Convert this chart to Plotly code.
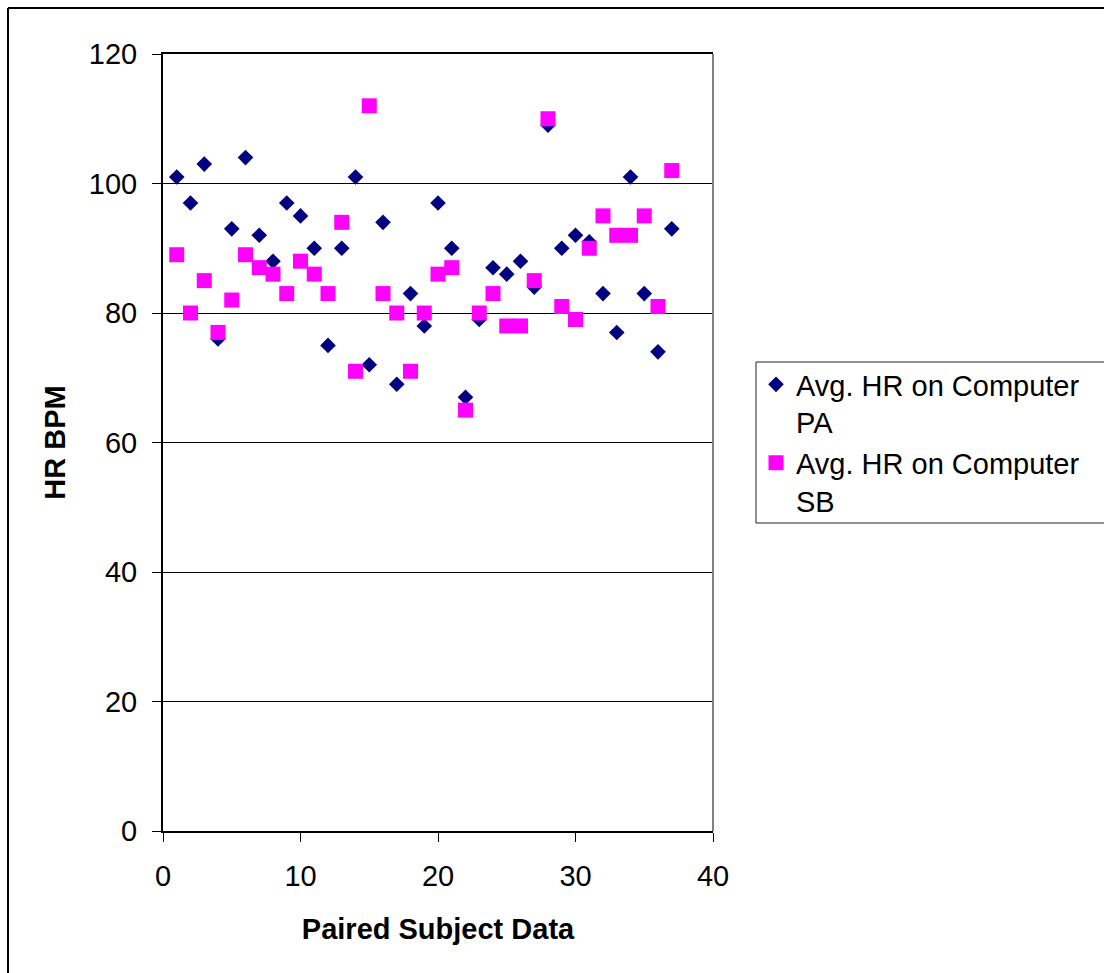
import plotly.graph_objects as go

# Paired subject index (x) and average heart rates (BPM) for each computer condition
subjects = list(range(1, 38))
hr_pa = [101, 97, 103, 76, 93, 104, 92, 88, 97, 95, 90, 75, 90, 101, 72, 94, 69, 83, 78, 97,
         90, 67, 79, 87, 86, 88, 84, 109, 90, 92, 91, 83, 77, 101, 83, 74, 93]
hr_sb = [89, 80, 85, 77, 82, 89, 87, 86, 83, 88, 86, 83, 94, 71, 112, 83, 80, 71, 80, 86,
         87, 65, 80, 83, 78, 78, 85, 110, 81, 79, 90, 95, 92, 92, 95, 81, 102]

series_names = ["Avg. HR on Computer<br>PA", "Avg. HR on Computer<br>SB"]
y_ticks = [0, 20, 40, 60, 80, 100, 120]
x_ticks = [0, 10, 20, 30, 40]

FONT = "Liberation Sans, Arial, sans-serif"
W, H = 1104, 973
L, R, T, B = 163, 713, 54, 831  # plot area in pixels


def px_x(p):
    return (p - L) / (R - L)


def px_y(p):
    return (B - p) / (B - T)


fig = go.Figure()
fig.add_trace(go.Scatter(
    x=subjects, y=hr_pa, mode="markers", name=series_names[0],
    marker=dict(symbol="diamond", size=12, color="#000080", line=dict(width=0)),
))
fig.add_trace(go.Scatter(
    x=subjects, y=hr_sb, mode="markers", name=series_names[1],
    marker=dict(symbol="square", size=15, color="#FF00FF", line=dict(width=0)),
))

shapes = [
    # outer chart frame (top and left edges)
    dict(type="line", xref="paper", yref="paper", x0=px_x(8), x1=px_x(1200), y0=px_y(8), y1=px_y(8),
         line=dict(color="black", width=2)),
    dict(type="line", xref="paper", yref="paper", x0=px_x(8), x1=px_x(8), y0=px_y(8), y1=px_y(1100),
         line=dict(color="black", width=2)),
    # right edge of plot area
    dict(type="line", xref="paper", yref="paper", x0=1, x1=1, y0=0, y1=1,
         line=dict(color="#808080", width=2)),
    # legend frame
    dict(type="rect", xref="paper", yref="paper", x0=px_x(756), x1=px_x(1200), y0=px_y(523), y1=px_y(362),
         line=dict(color="#222222", width=1), fillcolor="rgba(0,0,0,0)"),
]

fig.update_layout(
    width=W, height=H,
    margin=dict(l=L, r=W - R, t=T, b=H - B),
    paper_bgcolor="white", plot_bgcolor="white",
    font=dict(family=FONT, size=29, color="black"),
    showlegend=True,
    legend=dict(
        x=px_x(756), y=px_y(359), xanchor="left", yanchor="top",
        bgcolor="rgba(0,0,0,0)", borderwidth=0,
        font=dict(family=FONT, size=29, color="black"),
        valign="top",
    ),
    shapes=shapes,
    xaxis=dict(
        range=[0, 40], tickvals=x_ticks, ticktext=[str(v) for v in x_ticks],
        showgrid=False, zeroline=False,
        showline=True, linecolor="black", linewidth=2, mirror=True,
        ticks="outside", ticklen=9, tickwidth=1, tickcolor="black",
        ticklabelstandoff=9,
        title=dict(text="<b>Paired Subject Data</b>", font=dict(family=FONT, size=29), standoff=28),
    ),
    yaxis=dict(
        range=[0, 120], tickvals=y_ticks, ticktext=[str(v) for v in y_ticks],
        showgrid=True, gridcolor="black", gridwidth=1, zeroline=False,
        showline=True, linecolor="black", linewidth=2, mirror=False,
        ticks="outside", ticklen=9, tickwidth=1, tickcolor="black",
        ticklabelstandoff=9,
        title=dict(text="<b>HR BPM</b>", font=dict(family=FONT, size=29), standoff=15),
    ),
)

fig.write_html("out.html")
